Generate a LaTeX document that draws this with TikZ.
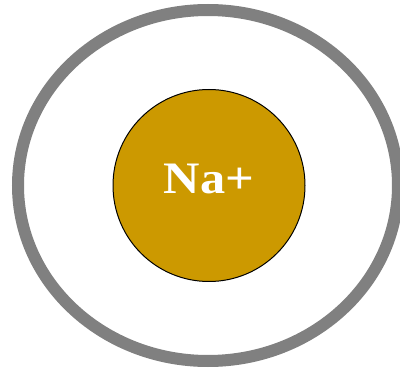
\documentclass[tikz,border=0pt]{standalone}
\usepackage{fontspec}
\setmainfont{Liberation Serif}
\definecolor{ring}{RGB}{128,128,128}
\definecolor{gold}{RGB}{204,153,0}
\begin{document}
\begin{tikzpicture}[x=1pt,y=-1pt,
  shell/.style={draw=ring,line width=12pt},
  ion/.style={circle,draw=black,line width=1pt,fill=gold,minimum size=192pt,inner sep=0pt},
  label/.style={text=white,inner sep=0pt,anchor=base,font=\bfseries\fontsize{45}{48}\selectfont}]
\useasboundingbox (0,0) rectangle (400,369);
\draw[shell] (208,185.5) ellipse [x radius=190, y radius=175.5];
\node[ion] (na) at (209,185.5) {};
\node[label] (t) at (209,194) {\scalebox{1.12}[1]{Na+}};
\end{tikzpicture}
\end{document}
